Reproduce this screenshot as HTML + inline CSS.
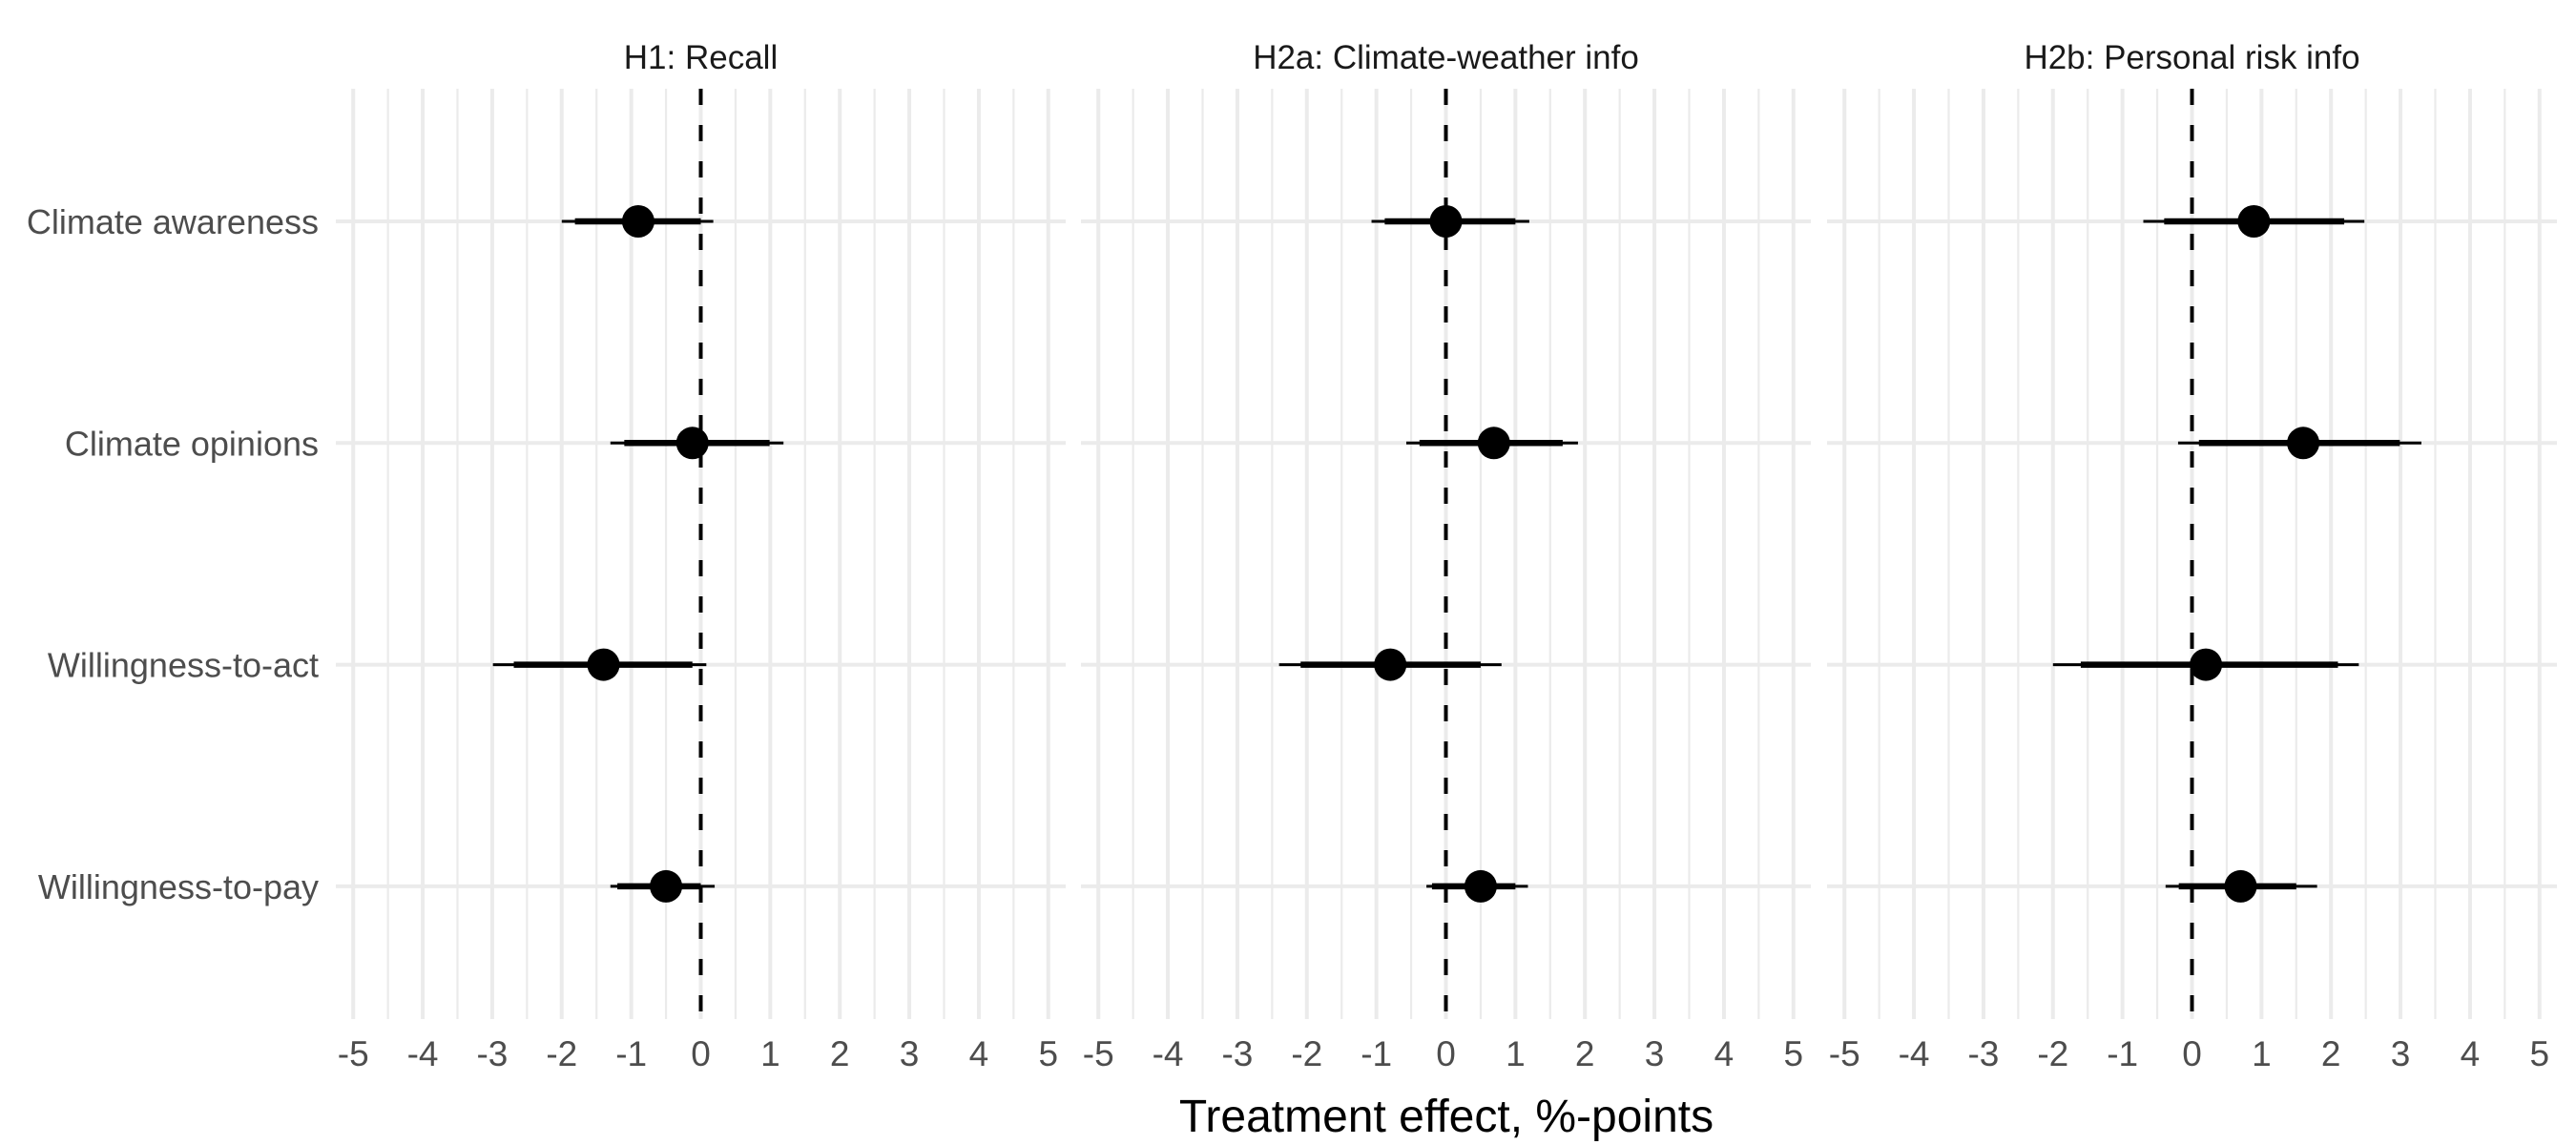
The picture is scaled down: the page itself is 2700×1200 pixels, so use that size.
<!DOCTYPE html>
<html><head><meta charset="utf-8"><style>
html,body{margin:0;padding:0;background:#fff;}
svg{display:block;font-family:"Liberation Sans",Arial,sans-serif;}
</style></head><body>
<svg id="chart" width="2700" height="1200" viewBox="0 0 2700 1200" xmlns="http://www.w3.org/2000/svg"></svg>
<script>
const panelTitles = ["H1: Recall", "H2a: Climate-weather info", "H2b: Personal risk info"];
const outcomes = ["Climate awareness", "Climate opinions", "Willingness-to-act", "Willingness-to-pay"];
const xTicks = [-5,-4,-3,-2,-1,0,1,2,3,4,5];
const xTickLabels = ["-5","-4","-3","-2","-1","0","1","2","3","4","5"];
// estimates per panel (rows in outcomes order)
const estimates = [[-0.9,-0.12,-1.4,-0.5],[0.0,0.69,-0.8,0.5],[0.89,1.6,0.2,0.7]];
const innerLo = [[-1.81,-1.1,-2.69,-1.2],[-0.88,-0.38,-2.09,-0.2],[-0.4,0.1,-1.6,-0.19]];
const innerHi = [[0.0,0.99,-0.12,0.0],[1.0,1.68,0.5,1.0],[2.19,2.99,2.1,1.5]];
const outerLo = [[-2.0,-1.3,-2.99,-1.3],[-1.07,-0.57,-2.4,-0.28],[-0.7,-0.2,-2.0,-0.38]];
const outerHi = [[0.18,1.19,0.08,0.2],[1.2,1.9,0.8,1.18],[2.48,3.3,2.4,1.8]];

const svg = document.getElementById('chart');
const NS = 'http://www.w3.org/2000/svg';
function mk(tag, attrs, parent){const e=document.createElementNS(NS,tag);for(const k in attrs)e.setAttribute(k,attrs[k]);(parent||svg).appendChild(e);return e;}

const panelLeft = [352, 1133, 1915];
const panelW = 765, xMin = -5.25, xMax = 5.25;
const gridTop = 93, gridBottom = 1068;
const rowY0 = 232, rowStep = 232.3;
function xScale(p, v){return panelLeft[p] + (v - xMin) / (xMax - xMin) * panelW;}
function yScale(i){return rowY0 + i * rowStep;}

for (let p = 0; p < 3; p++) {
  const g = mk('g', {});
  
  
  for (let v = -4.5; v <= 4.5; v += 1) {
    const l = mk('line', {x1:xScale(p,v), x2:xScale(p,v), y1:gridTop, y2:gridBottom, stroke:'#ebebeb', 'stroke-width':2.2}, g);
    
    
  }
  xTicks.forEach((t, i) => {
    const l = mk('line', {x1:xScale(p,t), x2:xScale(p,t), y1:gridTop, y2:gridBottom, stroke:'#ebebeb', 'stroke-width':4}, g);
    
    
    const tx = mk('text', {x:xScale(p,t), y:1117, 'text-anchor':'middle', 'font-size':37, fill:'#4d4d4d'}, g);
    tx.textContent = xTickLabels[i];
    
    
  });
  outcomes.forEach((o, i) => {
    const l = mk('line', {x1:panelLeft[p], x2:panelLeft[p]+panelW, y1:yScale(i), y2:yScale(i), stroke:'#ebebeb', 'stroke-width':4}, g);
    
    
  });
  const z = mk('line', {x1:xScale(p,0), x2:xScale(p,0), y1:gridTop, y2:gridBottom, stroke:'#000', 'stroke-width':4, 'stroke-dasharray':'17 21'}, g);
  
  
  const st = mk('text', {x:xScale(p,0), y:72, 'text-anchor':'middle', 'font-size':35, fill:'#1a1a1a'}, g);
  st.textContent = panelTitles[p];
  
  
  outcomes.forEach((o, i) => {
    const y = yScale(i);
    const a = mk('line', {x1:xScale(p,outerLo[p][i]), x2:xScale(p,outerHi[p][i]), y1:y, y2:y, stroke:'#000', 'stroke-width':3}, g);
    
    
    const b = mk('line', {x1:xScale(p,innerLo[p][i]), x2:xScale(p,innerHi[p][i]), y1:y, y2:y, stroke:'#000', 'stroke-width':6.5}, g);
    
    
    const c = mk('circle', {cx:xScale(p,estimates[p][i]), cy:y, r:17, fill:'#000'}, g);
    
    
  });
}
outcomes.forEach((o, i) => {
  const t = mk('text', {x:334, y:yScale(i)+13, 'text-anchor':'end', 'font-size':36, fill:'#4d4d4d'});
  t.textContent = o;
  
  
});
const xt = mk('text', {x:1516, y:1186, 'text-anchor':'middle', 'font-size':48, fill:'#000'});
xt.textContent = 'Treatment effect, %-points';


</script>
</body></html>
